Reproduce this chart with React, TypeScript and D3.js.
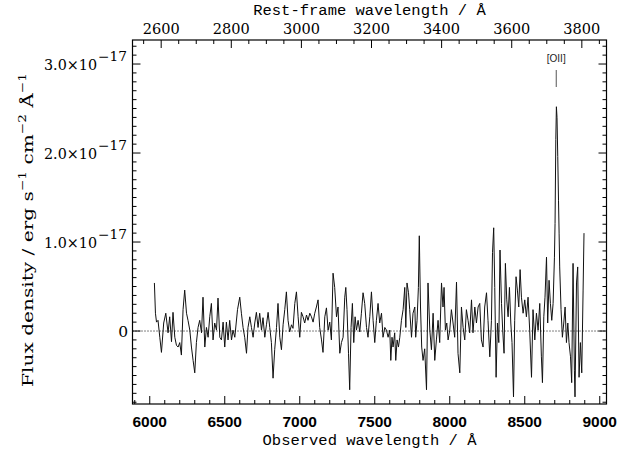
import React from 'react';
import * as d3 from 'd3';

// observed wavelength (Å) and flux density (units of 1e-17 erg/s/cm2/Å)
const wavelength = [
  6031, 6038, 6045, 6055, 6067, 6078, 6093, 6107, 6122, 6133, 6145, 6155, 6167, 6178, 6189, 6200,
  6211, 6222, 6233, 6245, 6255, 6267, 6278, 6289, 6300, 6311, 6322, 6333, 6345, 6355, 6367, 6378,
  6389, 6400, 6411, 6422, 6433, 6445, 6455, 6467, 6478, 6489, 6500, 6511, 6522, 6533, 6545, 6555,
  6567, 6585, 6600, 6611, 6622, 6633, 6645, 6655, 6667, 6678, 6689, 6700, 6711, 6722, 6733, 6745,
  6755, 6767, 6778, 6789, 6800, 6811, 6822, 6833, 6845, 6855, 6867, 6878, 6889, 6900, 6911, 6922,
  6933, 6945, 6955, 6967, 6978, 6989, 7000, 7011, 7022, 7033, 7045, 7055, 7067, 7078, 7089, 7100,
  7111, 7122, 7133, 7145, 7155, 7167, 7178, 7189, 7200, 7211, 7222, 7233, 7245, 7255, 7267, 7278,
  7289, 7300, 7307, 7315, 7325, 7333, 7342, 7351, 7360, 7369, 7378, 7389, 7400, 7411, 7422, 7433,
  7445, 7455, 7467, 7478, 7489, 7500, 7511, 7522, 7533, 7545, 7555, 7567, 7578, 7589, 7600, 7607,
  7615, 7622, 7633, 7640, 7649, 7658, 7667, 7678, 7689, 7700, 7707, 7715, 7725, 7733, 7745, 7755,
  7767, 7773, 7782, 7791, 7797, 7805, 7813, 7822, 7833, 7845, 7855, 7867, 7878, 7889, 7900, 7911,
  7922, 7933, 7945, 7955, 7962, 7971, 7980, 7989, 8000, 8011, 8022, 8033, 8045, 8055, 8067, 8078,
  8089, 8100, 8111, 8122, 8133, 8145, 8155, 8167, 8178, 8189, 8200, 8211, 8222, 8233, 8245, 8255,
  8267, 8278, 8285, 8293, 8300, 8309, 8318, 8327, 8335, 8345, 8353, 8362, 8371, 8380, 8389, 8398,
  8407, 8415, 8425, 8433, 8442, 8451, 8460, 8469, 8478, 8489, 8500, 8511, 8522, 8533, 8545, 8555,
  8567, 8578, 8589, 8600, 8611, 8618, 8627, 8635, 8645, 8653, 8662, 8671, 8680, 8689, 8698, 8702,
  8707, 8711, 8715, 8720, 8725, 8729, 8733, 8742, 8751, 8760, 8769, 8778, 8787, 8795, 8805, 8813,
  8822, 8831, 8835, 8845, 8853, 8862, 8871, 8880, 8889, 8895,
];
const flux = [
  0.54, 0.20, 0.10, 0.12, -0.07, -0.24, 0.09, 0.20, -0.02, 0.16, -0.12, 0.21, -0.07, -0.16, -0.18, -0.13,
  -0.27, 0.24, 0.46, 0.20, 0.12, 0.01, -0.18, -0.33, -0.47, -0.13, 0.04, 0.12, -0.02, 0.38, -0.18, 0.04,
  -0.07, 0.16, 0.31, -0.10, 0.09, 0.01, 0.37, -0.07, -0.10, 0.10, -0.18, 0.10, -0.10, 0.12, -0.10, 0.01,
  -0.07, 0.24, 0.38, 0.20, 0.04, -0.07, -0.25, 0.04, 0.16, 0.04, -0.07, 0.09, 0.21, 0.04, 0.20, 0.01,
  0.15, -0.07, 0.07, 0.21, 0.04, -0.13, -0.53, -0.21, 0.04, 0.31, -0.07, -0.21, 0.07, 0.24, 0.44, 0.12,
  -0.01, 0.07, 0.03, 0.31, 0.44, 0.16, -0.07, 0.21, 0.16, 0.09, 0.18, 0.12, 0.20, 0.16, 0.10, 0.20,
  0.27, 0.35, 0.04, -0.10, -0.24, 0.16, 0.26, 0.01, 0.10, -0.10, 0.65, 0.49, 0.16, 0.27, -0.25, -0.13,
  -0.07, 0.38, 0.49, 0.24, -0.25, -0.66, 0.04, 0.31, -0.13, 0.16, 0.01, 0.12, -0.01, 0.20, 0.43, 0.31,
  0.04, -0.07, 0.16, 0.44, 0.12, -0.13, 0.12, 0.31, 0.09, 0.20, -0.07, 0.04, 0.01, -0.07, 0.01, -0.33,
  -0.07, -0.18, -0.02, -0.33, -0.10, -0.18, -0.07, 0.12, 0.24, 0.49, 0.04, 0.54, 0.43, 0.24, -0.07, 0.20,
  0.27, -0.07, 0.12, 0.49, 1.07, 0.27, -0.18, -0.33, -0.20, -0.66, 0.54, 0.01, -0.21, 0.20, -0.33, -0.10,
  0.12, -0.13, 0.54, 0.27, 0.49, 0.01, 0.09, -0.10, 0.01, 0.24, 0.09, -0.07, 0.55, -0.25, -0.47, 0.27,
  0.04, -0.10, 0.24, 0.12, -0.02, 0.35, -0.02, 0.27, 0.09, 0.27, 0.31, -0.10, -0.18, 0.27, 0.43, 0.12,
  -0.29, 0.12, 0.88, 1.16, 0.49, -0.52, 0.09, -0.13, 0.91, 0.31, 0.01, -0.25, 0.76, 0.35, 0.16, 0.49,
  0.09, -0.13, -0.74, 0.12, 0.61, 0.46, 0.27, 0.69, 0.38, 0.20, 0.35, 0.16, 0.38, 0.01, -0.52, 0.24,
  -0.10, 0.20, 0.01, 0.31, -0.29, -0.58, 0.16, 0.38, 0.83, 0.09, 0.57, 0.31, 0.12, 0.31, 0.83, 1.21,
  2.15, 2.52, 2.40, 1.96, 1.47, 1.10, 0.72, 0.24, -0.07, 0.09, 0.27, -0.13, 0.09, -0.13, -0.29, -0.58,
  0.76, -0.44, -0.74, 0.54, 0.72, -0.52, -0.13, -0.47, 0.46, 1.10,
];

const obsTicks = [6000, 6500, 7000, 7500, 8000, 8500, 9000];
const restTicks = [2600, 2800, 3000, 3200, 3400, 3600, 3800];
const fluxTicks = [0, 1, 2, 3];
const fluxTickLabels = ['0', '1.0', '2.0', '3.0'];
const onePlusZ = 2.337;
const lineLabel = '[OII]';
const lineRest = 3727;

const W = 639;
const H = 453;
const M = { left: 132.5, right: 606.5, top: 40, bottom: 404 };

const serif = 'DejaVu Serif';
const mono = 'Liberation Mono';
const sans = 'Liberation Sans';

export default function App() {
  const x = d3.scaleLinear().domain([5885, 9045]).range([M.left, M.right]);
  const y = d3.scaleLinear().domain([-0.82, 3.27]).range([M.bottom, M.top]);
  const xr = (rest: number) => x(rest * onePlusZ);

  const pts = wavelength.map((w, i) => [w, flux[i]] as [number, number]);
  const line = d3.line<[number, number]>().x(d => x(d[0])).y(d => y(d[1]));

  const obsMinor = d3.range(5900, 9001, 100);
  const restMinor = d3.range(2550, 3900, 50).filter(r => r * onePlusZ >= 5885 && r * onePlusZ <= 9045);
  const fluxMinor = d3.range(-8, 33).map(v => v / 10);

  const major = 8;
  const minor = 4;

  return (
    <svg width={W} height={H} style={{ position: 'absolute', left: 0, top: 0, background: '#fff' }}>
      <rect x={0} y={0} width={W} height={H} fill="#fff" />

      {/* zero line */}
      <line x1={M.left} x2={M.right} y1={y(0)} y2={y(0)} stroke="#000" strokeWidth={1} strokeDasharray="1,2" />

      {/* spectrum */}
      <path d={line(pts) ?? ''} fill="none" stroke="#111" strokeWidth={1} strokeLinejoin="round" />

      {/* [OII] marker */}
      <line x1={xr(lineRest)} x2={xr(lineRest)} y1={70} y2={87} stroke="#555" strokeWidth={1} />
      <text x={xr(lineRest)} y={62} textAnchor="middle" style={{ fontFamily: sans }} fontSize={10} fill="#222">{lineLabel}</text>

      {/* frame */}
      <rect x={M.left} y={M.top} width={M.right - M.left} height={M.bottom - M.top} fill="none" stroke="#000" strokeWidth={1.2} />

      {/* bottom axis */}
      {obsMinor.map(v => {
        const len = v % 500 === 0 ? major : minor;
        return <line key={'bm' + v} x1={x(v)} x2={x(v)} y1={M.bottom} y2={M.bottom - len} stroke="#000" strokeWidth={1} />;
      })}
      {obsTicks.map(v => (
        <text key={'bt' + v} x={x(v)} y={427} textAnchor="middle" style={{ fontFamily: sans }} fontWeight="bold" fontSize={15.5}>{v}</text>
      ))}
      <text x={(M.left + M.right) / 2} y={445} textAnchor="middle" style={{ fontFamily: mono }} fontSize={15.5}>Observed wavelength / Å</text>

      {/* top axis (rest frame) */}
      {restMinor.map(v => {
        const len = v % 200 === 0 ? major : minor;
        return <line key={'tm' + v} x1={xr(v)} x2={xr(v)} y1={M.top} y2={M.top + len} stroke="#000" strokeWidth={1} />;
      })}
      {restTicks.map(v => (
        <text key={'tt' + v} x={xr(v) - 18.5} y={34} textLength={37} lengthAdjust="spacingAndGlyphs" style={{ fontFamily: serif }} fontSize={15.5}>{v}</text>
      ))}
      <text x={(M.left + M.right) / 2} y={15} textAnchor="middle" style={{ fontFamily: mono }} fontSize={15.5}>Rest-frame wavelength / Å</text>

      {/* left and right axes */}
      {fluxMinor.map(v => {
        const len = Math.abs(v - Math.round(v)) < 1e-6 ? major : minor;
        return (
          <g key={'ym' + v}>
            <line x1={M.left} x2={M.left + len} y1={y(v)} y2={y(v)} stroke="#000" strokeWidth={1} />
            <line x1={M.right} x2={M.right - len} y1={y(v)} y2={y(v)} stroke="#000" strokeWidth={1} />
          </g>
        );
      })}
      {fluxTicks.map((v, i) =>
        v === 0 ? (
          <text key={'yt' + v} x={128} y={y(v) + 5.5} textAnchor="end" style={{ fontFamily: serif }} fontSize={15.5}>{fluxTickLabels[i]}</text>
        ) : (
          <g key={'yt' + v} style={{ fontFamily: serif }}>
            <text x={44} y={y(v) + 5.5} textLength={53} lengthAdjust="spacingAndGlyphs" fontSize={15.5}>{fluxTickLabels[i] + '×10'}</text>
            <text x={98} y={y(v) - 3.5} textLength={29} lengthAdjust="spacingAndGlyphs" fontSize={12.5}>−17</text>
          </g>
        )
      )}

      <text transform="translate(33,230) rotate(-90)" x={-157} textLength={314} lengthAdjust="spacingAndGlyphs" style={{ fontFamily: serif }} fontSize={15.5}>
        Flux density / erg s<tspan dy={-7} fontSize={10.5}>−1</tspan>
        <tspan dy={7}> cm</tspan><tspan dy={-7} fontSize={10.5}>−2</tspan>
        <tspan dy={7}> Å</tspan><tspan dy={-7} fontSize={10.5}>−1</tspan>
      </text>
    </svg>
  );
}
